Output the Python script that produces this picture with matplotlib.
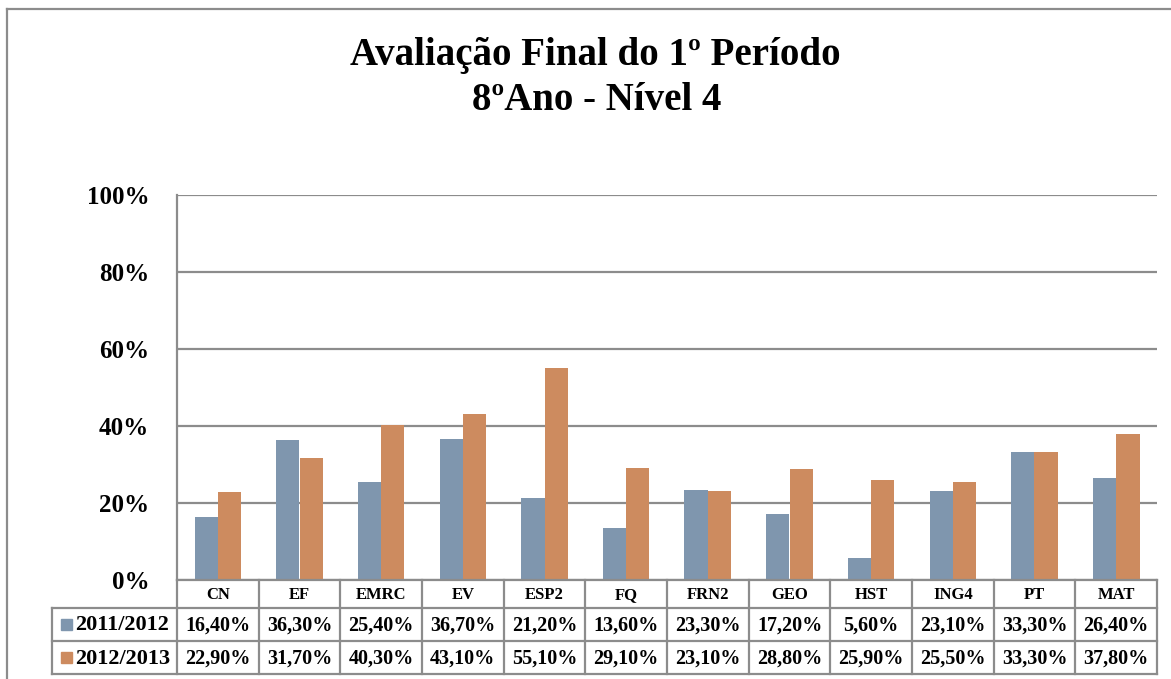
import numpy as np
import matplotlib.pyplot as plt
from matplotlib.lines import Line2D
from matplotlib.patches import Rectangle

# disciplinas e percentagens de nível 4
disciplinas = ["CN", "EF", "EMRC", "EV", "ESP2", "FQ", "FRN2", "GEO", "HST", "ING4", "PT", "MAT"]
anos = ["2011/2012", "2012/2013"]
v2011 = [16.4, 36.3, 25.4, 36.7, 21.2, 13.6, 23.3, 17.2, 5.6, 23.1, 33.3, 26.4]
v2012 = [22.9, 31.7, 40.3, 43.1, 55.1, 29.1, 23.1, 28.8, 25.9, 25.5, 33.3, 37.8]
yticks = [0, 20, 40, 60, 80, 100]

cores = ["#7F96AE", "#CD8B5F"]
cinza = "#8C8C8C"
fonte = "Liberation Serif"

W, H = 1171, 679
fig = plt.figure(figsize=(W / 100, H / 100), dpi=100)

# moldura exterior do gráfico
fig.add_artist(Line2D([7 / W, 7 / W], [0, 1 - 9 / H], color=cinza, lw=1.6))
fig.add_artist(Line2D([7 / W, 1], [1 - 9 / H, 1 - 9 / H], color=cinza, lw=1.6))

fig.text(595 / W, 1 - 56 / H, "Avaliação Final do 1º Período", ha="center", va="center",
         fontsize=28, fontweight="bold", family=fonte)
fig.text(597 / W, 1 - 100 / H, "8ºAno - Nível 4", ha="center", va="center",
         fontsize=28, fontweight="bold", family=fonte)

x0, x1, y0, y1 = 177, 1157, 580, 195
ax = fig.add_axes([x0 / W, 1 - y0 / H, (x1 - x0) / W, (y0 - y1) / H])

n = len(disciplinas)
x = np.arange(n)
bw = 1 / 3.5
ax.bar(x - bw / 2, v2011, bw, color=cores[0], zorder=3)
ax.bar(x + bw / 2, v2012, bw, color=cores[1], zorder=3)

ax.set_xlim(-0.5, n - 0.5)
ax.set_ylim(0, 100)
ax.set_yticks(yticks)
ax.set_yticklabels([f"{t}%" for t in yticks], fontsize=18, fontweight="bold", family=fonte)
ax.tick_params(axis="y", length=0, pad=20)
ax.set_xticks([])
ax.grid(axis="y", color=cinza, lw=1.6, zorder=1)
for s in ["top", "right", "bottom"]:
    ax.spines[s].set_visible(False)
ax.spines["left"].set_color(cinza)
ax.spines["left"].set_linewidth(1.6)

# tabela de dados por baixo do eixo
px = (x1 - x0) / n
tl = 52
th = 674 - y0
tax = fig.add_axes([tl / W, 1 - 674 / H, (x1 - tl) / W, th / H])
xl = -0.5 - (x0 - tl) / px
tax.set_xlim(xl, n - 0.5)
tax.set_ylim(th, 0)
tax.axis("off")

r1, r2 = 28, 61
kw = dict(color=cinza, lw=1.6, clip_on=False)
tax.plot([-0.5, n - 0.5], [0, 0], **kw)
tax.plot([xl, n - 0.5], [r1, r1], **kw)
tax.plot([xl, n - 0.5], [r2, r2], **kw)
tax.plot([xl, n - 0.5], [th, th], **kw)
tax.plot([xl, xl], [r1, th], **kw)
for b in np.arange(n + 1) - 0.5:
    tax.plot([b, b], [0, th], **kw)

for i, d in enumerate(disciplinas):
    tax.text(i, r1 / 2 + 1, d, ha="center", va="center", fontsize=12, fontweight="bold", family=fonte)
    tax.text(i, (r1 + r2) / 2 + 1, f"{v2011[i]:.2f}%".replace(".", ","), ha="center", va="center",
             fontsize=14.5, fontweight="bold", family=fonte)
    tax.text(i, (r2 + th) / 2 + 1, f"{v2012[i]:.2f}%".replace(".", ","), ha="center", va="center",
             fontsize=14.5, fontweight="bold", family=fonte)

sq = 11 / px
for j, (ano, yc) in enumerate(zip(anos, [(r1 + r2) / 2, (r2 + th) / 2])):
    tax.add_patch(Rectangle((xl + 9 / px, yc - 5.5), sq, 11, color=cores[j], clip_on=False))
    tax.text(xl + 23 / px, yc + 1, ano, ha="left", va="center", fontsize=16,
             fontweight="bold", family=fonte)

fig.savefig("out.png", dpi=100)
